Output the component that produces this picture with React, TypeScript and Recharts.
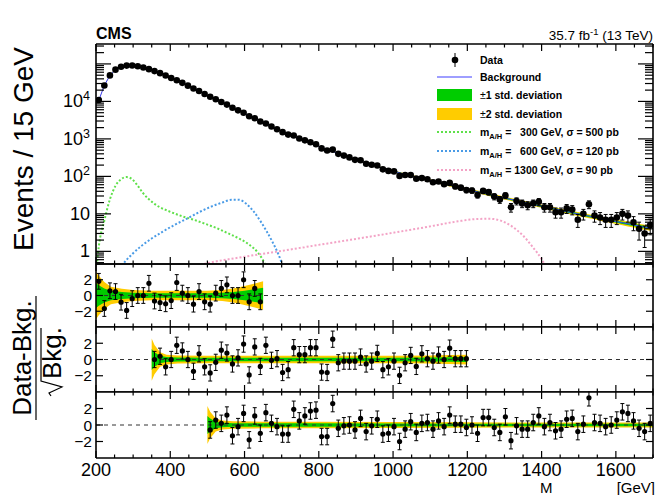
import React from "react";
import { Area, ComposedChart, ErrorBar, Line, Scatter, XAxis, YAxis } from "recharts";

const FONT = '"Liberation Sans", Arial, Helvetica, sans-serif';
const GREEN = "#00cc00";
const YELLOW = "#ffcc00";
const BKG_BLUE = "#3f3fff";
const SIG300 = "#5fe04a";
const SIG600 = "#4a9be6";
const SIG1300 = "#f3a3c6";

const W = 660;
const H = 495;
const PLOT_LEFT = 96;
const PLOT_RIGHT = 653;
const MAIN_TOP = 44;
const MAIN_BOTTOM = 264;
const PULL_EDGES = [264, 327, 392, 458];
const MAIN_Y_DOMAIN = [0.46, 340000];
// axes get a 1px slot so that Recharts draws them
const AX = 1;

// 15 GeV bins between 200 and 1700 GeV
const BIN_START = 200;
const BIN_WIDTH = 15;
const binCenter = (i: number) => BIN_START + BIN_WIDTH * (i + 0.5);

// background fit, events per bin
const bkgFit = [
  10670, 26730, 49230, 70310, 84100, 90780, 90780, 86300, 79980, 72130,
  64360, 56640, 49230, 42270, 36310, 31120, 26300, 22230, 18790, 15890,
  13430, 11350, 9594, 8110, 6855, 5794, 4898, 4140, 3499, 2958,
  2500, 2123, 1811, 1556, 1342, 1164, 1011, 881, 769, 674,
  592, 521, 460, 407, 361, 321, 286, 256, 229, 206,
  186, 168, 152, 138, 125, 114, 105, 96, 88.3, 81.1,
  74.6, 68.5, 63.2, 58.1, 53.5, 49.3, 45.5, 42.0, 38.7, 35.8,
  33.1, 30.5, 28.3, 26.2, 24.2, 22.4, 20.8, 19.3, 17.9, 16.6,
  15.4, 14.3, 13.4, 12.4, 11.5, 10.7, 10.0, 9.35, 8.71, 8.12,
  7.58, 7.08, 6.62, 6.18, 5.79, 5.42, 5.07, 4.75, 4.45, 4.18,
];

// relative 1 std. deviation of the fit, one entry per 75 GeV
const bkgUnc = [
  0.01, 0.006, 0.005, 0.005, 0.006, 0.008, 0.01, 0.013, 0.016, 0.02,
  0.025, 0.03, 0.035, 0.04, 0.045, 0.05, 0.055, 0.06, 0.068, 0.075,
];

// (data - bkg) / sqrt(bkg) for the three fit ranges
const pullsLow = [
  1.8, -1.65, 0.6, 0.5, -0.85, -1.9, -0.4, 0.0, 0.0, 1.55,
  -0.7, -0.9, -1.05, -0.65, 1.65, 0.3, 0.0, -1.1, 0.5, -0.8,
  -1.1, 0.3, 0.9, 1.35, 0.0, 0.0, 2.0, -0.8, 0.9, -0.8,
];
const pullsMid = [
  0.0, 0.4, -0.9, 0.0, 1.75, 1.05, 0.0, -1.45, 0.7, -0.9,
  -1.65, -0.35, 1.15, 0.8, -0.55, 0.2, 1.9, -1.9, 1.55, -0.85,
  1.75, -0.1, 0.1, -1.6, -1.25, 1.45, 0.6, 0.6, 1.45, 1.45,
  -1.55, -1.6, 2.5, -0.4, -0.2, -0.2, -0.2, 0.3, -0.55, -0.2,
  0.75, -1.25, -0.9, -0.2, -1.95, -0.4, 0.5, -0.85, 0.7, 0.1,
  -0.2, 0.55, 0.0, 1.4, 0.1, 0.1, 0.1,
];
const pullsHigh = [
  -0.6, 0.6, 0.2, 1.2, -1.3, -0.2, 1.4, -1.8, 1.1, -1.0,
  1.5, 0.2, -0.2, -1.1, -1.1, 1.9, 0.5, 1.1, 1.7, 1.8,
  -1.4, -1.4, 2.6, -0.4, -0.1, 0.0, -0.6, 0.8, -0.8, -0.1,
  0.7, -1.1, -1.0, -0.2, -2.0, -0.5, 0.4, -0.9, 0.2, 0.3,
  -0.5, 0.5, -0.2, 1.2, 0.1, 0.1, -0.3, 0.0, -1.0, 0.9,
  0.9, -0.3, -0.9, 1.0, -1.9, -0.1, -0.5, -0.5, 0.3, 1.1,
  -0.2, 0.3, -0.7, -0.5, 0.7, 0.8, -0.8, 0.1, 3.3, 0.3,
  0.2, -0.2, 0.0, 0.6, 1.6, 1.4, 0.5, -0.4, -0.8, 0.2,
];

// pull band half widths (in sigma units) along each fit range
const lowBandMass = [200, 207.5, 222.5, 240, 270, 300, 350, 400, 450, 500, 540, 570, 600, 625, 650];
const lowBand1 = [1.6, 1.3, 0.9, 0.6, 0.45, 0.35, 0.3, 0.3, 0.3, 0.3, 0.35, 0.45, 0.6, 0.8, 1.0];
const lowBand2 = [3.0, 2.5, 1.7, 1.1, 0.85, 0.7, 0.6, 0.6, 0.6, 0.6, 0.7, 0.9, 1.2, 1.5, 1.8];
const midBandMass = [350, 357.5, 372.5, 390, 420, 500, 600, 700, 800, 900, 1000, 1100, 1150, 1200];
const midBand1 = [1.3, 0.9, 0.45, 0.3, 0.25, 0.22, 0.22, 0.22, 0.22, 0.22, 0.22, 0.25, 0.28, 0.3];
const midBand2 = [2.6, 1.8, 0.9, 0.6, 0.5, 0.45, 0.45, 0.45, 0.45, 0.45, 0.45, 0.5, 0.55, 0.6];
const highBandMass = [500, 507.5, 522.5, 540, 570, 650, 800, 1000, 1200, 1400, 1600, 1700];
const highBand1 = [1.1, 0.8, 0.4, 0.28, 0.22, 0.2, 0.2, 0.18, 0.16, 0.15, 0.15, 0.15];
const highBand2 = [2.3, 1.6, 0.8, 0.55, 0.45, 0.4, 0.4, 0.36, 0.33, 0.3, 0.3, 0.3];

// signal templates, events per bin
const sig300Mass = [200, 207.5, 222.5, 237.5, 252.5, 267.5, 282.5, 297.5, 312.5, 327.5, 342.5, 357.5, 372.5, 387.5, 402.5, 432.5, 462.5, 492.5, 522.5, 552.5, 582.5, 612.5, 637.5, 657.5, 672.5];
const sig300Events = [0.26, 1.34, 6.6, 24.5, 56, 84, 96, 84, 56, 35, 24.5, 18.5, 14.9, 12.8, 11.1, 8.6, 7.0, 5.5, 4.26, 3.13, 2.27, 1.51, 0.89, 0.41, 0.17];
const sig600Mass = [250, 270, 300, 345, 380, 413, 450, 480, 510, 540, 565, 585, 605, 625, 645, 660, 675, 690, 705];
const sig600Events = [0.17, 0.41, 0.89, 2.04, 3.37, 5.16, 7.94, 11.4, 15.6, 20.0, 23.8, 23.8, 18.5, 11.4, 5.94, 3.37, 1.8, 0.89, 0.36];
const sig1300Mass = [470, 507, 600, 700, 800, 900, 1000, 1100, 1175, 1225, 1260, 1290, 1320, 1350, 1375, 1400, 1420];
const sig1300Events = [0.41, 0.5, 0.72, 1.03, 1.49, 2.15, 3.13, 4.64, 6.33, 7.27, 7.4, 6.6, 4.64, 2.64, 1.34, 0.62, 0.26];

const pullForBin = (i: number) => (i < 10 ? pullsLow[i] : i < 20 ? pullsMid[i - 10] : pullsHigh[i - 20]);

const mainRows = bkgFit.map((b, i) => {
  const n = Math.round(b + pullForBin(i) * Math.sqrt(b));
  const s = Math.sqrt(n);
  const u = bkgUnc[Math.floor(i / 5)];
  return {
    m: binCenter(i),
    bkg: b,
    n,
    e: [s, s],
    band1: [b * (1 - u), b * (1 + u)],
    band2: [b * (1 - 2 * u), b * (1 + 2 * u)],
  };
});

const curve = (mass: number[], ev: number[]) => mass.map((m, k) => ({ m, v: ev[k] }));
const pullRows = (pulls: number[], firstBin: number) => pulls.map((p, k) => ({ m: binCenter(firstBin + k), p, e: 1 }));
const bandRows = (mass: number[], w1: number[], w2: number[]) =>
  mass.map((m, k) => ({ m, b1: [-w1[k], w1[k]], b2: [-w2[k], w2[k]] }));
const zeroLine = [{ m: 200, z: 0 }, { m: 1700, z: 0 }];

const xTicks: number[] = [];
for (let v = 200; v <= 1700; v += 50) xTicks.push(v);

const logTicks: number[] = [];
[0.1, 1, 10, 100, 1000, 10000, 100000].forEach((d) => {
  for (let k = 1; k <= 9; k++) {
    const v = Number((k * d).toPrecision(3));
    if (v >= MAIN_Y_DOMAIN[0] && v <= MAIN_Y_DOMAIN[1]) logTicks.push(v);
  }
});

const FRAME = { stroke: "#000", strokeWidth: 1.6 };

const xTick = (side: "top" | "bottom", labels: boolean) => (props: any) => {
  const { x, y, payload } = props;
  const v = payload.value as number;
  const major = v % 200 === 0;
  const len = major ? 7 : 3.5;
  return (
    <g>
      <line x1={x} y1={y} x2={x} y2={side === "bottom" ? y - len : y + len} stroke="#000" strokeWidth={1.2} />
      {labels && major ? (
        <text x={x} y={y + 17.5} textAnchor="middle" fontSize={18} fontFamily={FONT} fill="#000">
          {v}
        </text>
      ) : null}
    </g>
  );
};

const logTick = (side: "left" | "right") => (props: any) => {
  const { x, y, payload } = props;
  const v = payload.value as number;
  const lg = Math.log10(v);
  const e = Math.round(lg);
  const major = Math.abs(lg - e) < 1e-6;
  const len = major ? 15 : 8;
  let label: React.ReactNode = null;
  if (side === "left" && major && e >= 0 && e <= 4) {
    label =
      e === 0 ? "1" : e === 1 ? "10" : (
        <>
          10
          <tspan dy={-7} fontSize={12.5}>
            {e}
          </tspan>
        </>
      );
  }
  return (
    <g>
      <line x1={x} y1={y} x2={side === "left" ? x + len : x - len} y2={y} stroke="#000" strokeWidth={1.2} />
      {label ? (
        <text x={x - 6} y={y + 6} textAnchor="end" fontSize={18} fontFamily={FONT} fill="#000">
          {label}
        </text>
      ) : null}
    </g>
  );
};

const pullTick = (side: "left" | "right") => (props: any) => {
  const { x, y, payload } = props;
  const v = payload.value as number;
  return (
    <g>
      <line x1={x} y1={y} x2={side === "left" ? x + 7 : x - 7} y2={y} stroke="#000" strokeWidth={1.2} />
      {side === "left" ? (
        <text x={x - 4} y={y + 5.5} textAnchor="end" fontSize={15.5} fontFamily={FONT} fill="#000">
          {v < 0 ? `\u2212${-v}` : v}
        </text>
      ) : null}
    </g>
  );
};

const dot = (r: number) => (p: any) => <circle cx={p.cx} cy={p.cy} r={r} fill="#000" />;

const axisCommon = {
  type: "number" as const,
  allowDataOverflow: true,
  interval: 0 as const,
  tickSize: 0,
  tickMargin: 0,
  tickLine: false,
  axisLine: FRAME,
};

function MainPanel() {
  const height = MAIN_BOTTOM + 6;
  return (
    <div style={{ position: "absolute", left: 0, top: 0, width: W, height }}>
      <ComposedChart
        width={W}
        height={height}
        data={mainRows}
        margin={{ top: MAIN_TOP - AX, right: W - PLOT_RIGHT - AX, bottom: height - MAIN_BOTTOM - AX, left: PLOT_LEFT - AX }}
      >
        <XAxis xAxisId="b" dataKey="m" domain={[200, 1700]} ticks={xTicks} height={AX} {...axisCommon} tick={xTick("bottom", false)} />
        <XAxis xAxisId="t" orientation="top" dataKey="m" domain={[200, 1700]} ticks={xTicks} height={AX} {...axisCommon} tick={xTick("top", false)} />
        <YAxis yAxisId="l" scale="log" domain={MAIN_Y_DOMAIN} ticks={logTicks} width={AX} {...axisCommon} tick={logTick("left")} />
        <YAxis yAxisId="r" orientation="right" scale="log" domain={MAIN_Y_DOMAIN} ticks={logTicks} width={AX} {...axisCommon} tick={logTick("right")} />

        <Area xAxisId="b" yAxisId="l" dataKey="band2" type="linear" stroke="none" fill={YELLOW} fillOpacity={1} isAnimationActive={false} />
        <Area xAxisId="b" yAxisId="l" dataKey="band1" type="linear" stroke="none" fill={GREEN} fillOpacity={1} isAnimationActive={false} />
        <Line xAxisId="b" yAxisId="l" dataKey="bkg" type="linear" stroke={BKG_BLUE} strokeWidth={1} dot={false} isAnimationActive={false} />

        <Line xAxisId="b" yAxisId="l" data={curve(sig300Mass, sig300Events)} dataKey="v" type="monotone" stroke={SIG300}
          strokeWidth={2} strokeDasharray="2 2" dot={false} isAnimationActive={false} />
        <Line xAxisId="b" yAxisId="l" data={curve(sig600Mass, sig600Events)} dataKey="v" type="monotone" stroke={SIG600}
          strokeWidth={2} strokeDasharray="2 2" dot={false} isAnimationActive={false} />
        <Line xAxisId="b" yAxisId="l" data={curve(sig1300Mass, sig1300Events)} dataKey="v" type="monotone" stroke={SIG1300}
          strokeWidth={2} strokeDasharray="2 2" dot={false} isAnimationActive={false} />

        <Scatter xAxisId="b" yAxisId="l" data={mainRows} dataKey="n" shape={dot(3.3)} isAnimationActive={false}>
          <ErrorBar dataKey="e" direction="y" width={2} stroke="#000" strokeWidth={1} isAnimationActive={false} />
        </Scatter>
      </ComposedChart>
    </div>
  );
}

type PullProps = {
  top: number;
  bottom: number;
  rows: { m: number; p: number; e: number }[];
  band: { m: number; b1: number[]; b2: number[] }[];
  labels: boolean;
};

function PullPanel({ top, bottom, rows, band, labels }: PullProps) {
  const height = labels ? H - top : bottom - top;
  const extra = height - (bottom - top);
  // the chart starts 1px above the panel so the top axis slot sits outside it
  return (
    <div style={{ position: "absolute", left: 0, top: top - AX, width: W, height: height + AX }}>
      <ComposedChart
        width={W}
        height={height + AX}
        data={rows}
        margin={{ top: 0, right: W - PLOT_RIGHT - AX, bottom: extra - AX, left: PLOT_LEFT - AX }}
      >
        <XAxis xAxisId="b" dataKey="m" domain={[200, 1700]} ticks={xTicks} height={AX} {...axisCommon} tick={xTick("bottom", labels)} />
        <XAxis xAxisId="t" orientation="top" dataKey="m" domain={[200, 1700]} ticks={xTicks} height={AX} {...axisCommon} tick={xTick("top", false)} />
        <YAxis yAxisId="l" domain={[-4, 4]} ticks={[-2, 0, 2]} width={AX} {...axisCommon} tick={pullTick("left")} />
        <YAxis yAxisId="r" orientation="right" domain={[-4, 4]} ticks={[-2, 0, 2]} width={AX} {...axisCommon} tick={pullTick("right")} />

        <Area xAxisId="b" yAxisId="l" data={band} dataKey="b2" type="linear" stroke="none" fill={YELLOW} fillOpacity={1} isAnimationActive={false} />
        <Area xAxisId="b" yAxisId="l" data={band} dataKey="b1" type="linear" stroke="none" fill={GREEN} fillOpacity={1} isAnimationActive={false} />
        <Line xAxisId="b" yAxisId="l" data={zeroLine} dataKey="z" type="linear" stroke="#333" strokeWidth={1}
          strokeDasharray="4 4" dot={false} isAnimationActive={false} />
        <Scatter xAxisId="b" yAxisId="l" data={rows} dataKey="p" shape={dot(2.6)} isAnimationActive={false}>
          <ErrorBar dataKey="e" direction="y" width={2} stroke="#000" strokeWidth={1} isAnimationActive={false} />
        </Scatter>
      </ComposedChart>
    </div>
  );
}

function LegendRow({ y, children, text }: { y: number; children: React.ReactNode; text: React.ReactNode }) {
  return (
    <g>
      {children}
      <text x={480} y={y + 4} fontSize={10.5} fontWeight="bold" style={{ whiteSpace: "pre" }}>
        {text}
      </text>
    </g>
  );
}

const massText = (lead: string, rest: string) => (
  <>
    m<tspan fontSize={7.5} dy={3}>A/H</tspan>
    <tspan dy={-3}>{lead}</tspan>
    {rest}
  </>
);

function Annotations() {
  return (
    <svg width={W} height={H} fontFamily={FONT} style={{ position: "absolute", left: 0, top: 0, pointerEvents: "none" }}>
      <text x={96} y={39} fontSize={16} fontWeight="bold">CMS</text>
      <text x={653} y={40} fontSize={13.5} textAnchor="end">
        35.7 fb<tspan dy={-5} fontSize={9.5}>-1</tspan>
        <tspan dy={5}> (13 TeV)</tspan>
      </text>

      <text transform="translate(33,149) rotate(-90)" textAnchor="middle" fontSize={28}>Events / 15 GeV</text>

      <g transform="translate(36,358) rotate(-90)">
        <text x={0} y={-5} textAnchor="middle" fontSize={26}>Data-Bkg.</text>
        <line x1={-62} y1={0} x2={62} y2={0} stroke="#000" strokeWidth={1.2} />
        <path d="M -38 15 L -35 13 L -29 26 L -23 5 L 30 5" fill="none" stroke="#000" strokeWidth={1.2} />
        <text x={-21} y={25} fontSize={26}>Bkg.</text>
      </g>

      <text x={540} y={493} fontSize={15}>M</text>
      <text x={655} y={493} fontSize={15} textAnchor="end">[GeV]</text>

      <LegendRow y={60} text="Data">
        <line x1={455} y1={53} x2={455} y2={67} stroke="#000" strokeWidth={1} />
        <circle cx={455} cy={60} r={3.3} fill="#000" />
      </LegendRow>
      <LegendRow y={77} text="Background">
        <line x1={437} y1={77} x2={472} y2={77} stroke={BKG_BLUE} strokeWidth={1.2} />
      </LegendRow>
      <LegendRow y={95} text={<><tspan fontWeight="normal">±</tspan>1 std. deviation</>}>
        <rect x={437} y={89} width={35} height={12} fill={GREEN} />
      </LegendRow>
      <LegendRow y={114} text={<><tspan fontWeight="normal">±</tspan>2 std. deviation</>}>
        <rect x={437} y={108} width={35} height={12} fill={YELLOW} />
      </LegendRow>
      <LegendRow y={132} text={massText(" =   300 GeV, ", "σ = 500 pb")}>
        <line x1={437} y1={132} x2={472} y2={132} stroke={SIG300} strokeWidth={2} strokeDasharray="2 2" />
      </LegendRow>
      <LegendRow y={151} text={massText(" =   600 GeV, ", "σ = 120 pb")}>
        <line x1={437} y1={151} x2={472} y2={151} stroke={SIG600} strokeWidth={2} strokeDasharray="2 2" />
      </LegendRow>
      <LegendRow y={170} text={massText(" = 1300 GeV, ", "σ = 90 pb")}>
        <line x1={437} y1={170} x2={472} y2={170} stroke={SIG1300} strokeWidth={2} strokeDasharray="2 2" />
      </LegendRow>
    </svg>
  );
}

export default function App() {
  return (
    <div style={{ position: "absolute", left: 0, top: 0, width: W, height: H, overflow: "hidden", background: "#fff", fontFamily: FONT }}>
      <MainPanel />
      <PullPanel top={PULL_EDGES[0]} bottom={PULL_EDGES[1]} rows={pullRows(pullsLow, 0)}
        band={bandRows(lowBandMass, lowBand1, lowBand2)} labels={false} />
      <PullPanel top={PULL_EDGES[1]} bottom={PULL_EDGES[2]} rows={pullRows(pullsMid, 10)}
        band={bandRows(midBandMass, midBand1, midBand2)} labels={false} />
      <PullPanel top={PULL_EDGES[2]} bottom={PULL_EDGES[3]} rows={pullRows(pullsHigh, 20)}
        band={bandRows(highBandMass, highBand1, highBand2)} labels />
      <Annotations />
    </div>
  );
}
